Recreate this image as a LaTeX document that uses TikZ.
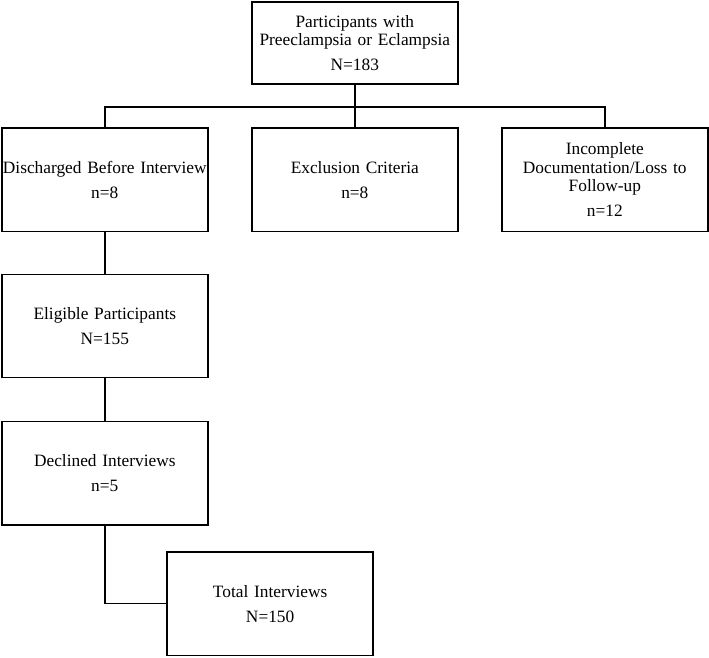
\documentclass[tikz,border=0pt]{standalone}
\usepackage{fontspec}
\setmainfont{Liberation Serif}
\usetikzlibrary{positioning, calc}

\begin{document}
\begin{tikzpicture}
   [
      % Style for the flow boxes: plain rectangle, thin black border, centred text
      flow box/.style={rectangle, draw, line width=1.2pt, inner sep=0pt, outer sep=0pt, align=center,
                       minimum width=154.5pt, minimum height=77.5pt, text width=154.5pt,
                       font=\fontsize{13}{13.7}\selectfont},
      % Style for the connecting lines
      flow line/.style={line width=1.2pt, black}
   ]

    % Fix the margins of the picture
    \useasboundingbox (0,0) rectangle (531.75pt,-492.75pt);

    % =======================================================
    % Top box: all participants
    % =======================================================
    \node[flow box, minimum width=153.75pt, minimum height=61.5pt] (total_all) at (266.1pt,-32.25pt)
        {Participants with\\Preeclampsia or Eclampsia\\[5pt]N=183};

    % =======================================================
    % Middle row: the three exclusions
    % =======================================================
    \node[flow box, below=33pt of total_all] (exclusion) {Exclusion Criteria\\[5pt]n=8};
    \node[flow box, left=33pt of exclusion] (discharged) {Discharged Before Interview\\[5pt]n=8};
    \node[flow box, right=33pt of exclusion] (loss) {Incomplete\\Documentation/Loss to\\Follow-up\\[5pt]n=12};

    % Split point on the horizontal bar
    \coordinate (split) at ($(total_all.south) + (0,-17.25pt)$);

    % Lines from the top box to the three boxes
    \draw[flow line] (total_all.south) -- (exclusion.north);
    \draw[flow line] (discharged.north) |- (split) -| (loss.north);

    % =======================================================
    % Left column: eligible, declined, total
    % =======================================================
    \node[flow box, below=32.25pt of discharged] (eligible) {Eligible Participants\\[5pt]N=155};
    \node[flow box, below=33pt of eligible] (declined) {Declined Interviews\\[5pt]n=5};
    \node[flow box, below=20.25pt of declined.south, xshift=124pt] (interviews) {Total Interviews\\[5pt]N=150};

    % Lines down the left column
    \draw[flow line] (discharged) -- (eligible);
    \draw[flow line] (eligible) -- (declined);
    \draw[flow line] (declined.south) |- (interviews.west);

\end{tikzpicture}
\end{document}
